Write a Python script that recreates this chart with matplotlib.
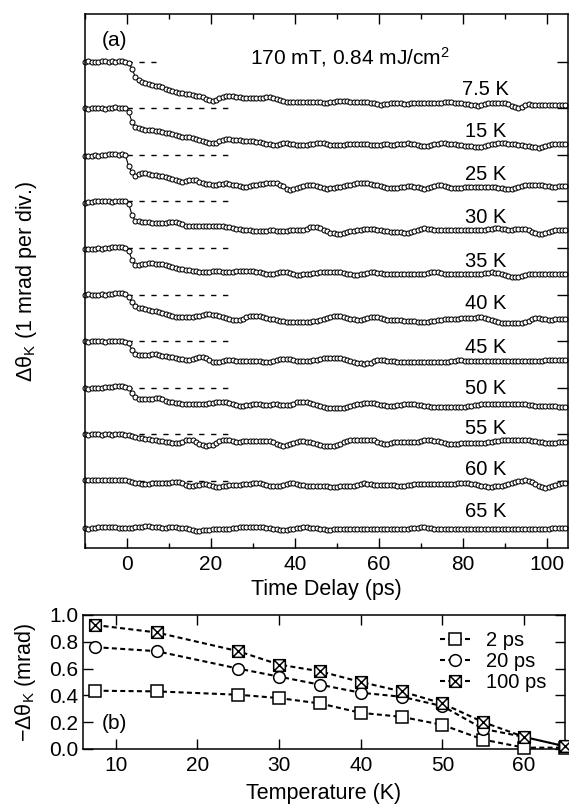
import numpy as np
import matplotlib
matplotlib.use("Agg")
import matplotlib.pyplot as plt
from matplotlib.path import Path
from matplotlib.ticker import MultipleLocator, FixedLocator, FormatStrFormatter

plt.rcParams['font.family'] = ['Liberation Sans', 'DejaVu Sans']
plt.rcParams['mathtext.default'] = 'regular'

# ---------------- data: panel (a) ----------------
# Kerr rotation traces in units of 0.01 mrad, sampled every 0.8 ps from -10 ps
t_start, t_step = -10.0, 0.8
temp_labels = ["7.5 K", "15 K", "25 K", "30 K", "35 K", "40 K", "45 K", "50 K", "55 K", "60 K", "65 K"]
offsets = [0, -1, -2, -3, -4, -5, -6, -7, -8, -9, -10]   # 1 mrad per div.
dash_end = [7, 25, 25, 25, 25, 25, 25, 25, 25, 25, None]

trace_7p5K = [0,1,0,-1,0,1,1,0,1,0,2,1,0,
    -4,-15,-34,-40,-44,-46,-48,-50,-52,-53,-55,-58,
    -61,-64,-66,-67,-68,-69,-70,-72,-74,-75,-77,-80,-83,-84,-82,-79,-76,-74,-73,-74,-76,-77,-78,-78,-79,
    -79,-79,-78,-78,-77,-77,-78,-80,-82,-84,-86,-86,-86,-86,-86,-87,-87,-87,-86,-86,-87,-88,-88,-87,-86,
    -85,-84,-84,-85,-86,-87,-87,-86,-86,-87,-88,-90,-92,-93,-92,-91,-90,-90,-90,-90,-91,-91,-90,-90,-89,
    -89,-89,-88,-88,-88,-89,-88,-87,-86,-87,-88,-89,-90,-91,-92,-93,-94,-95,-94,-92,-90,-89,-88,-88,-89,
    -90,-92,-95,-98,-99,-97,-94,-92,-93,-94,-94,-93,-93,-93,-94,-94,-93,-93,-93]
trace_15K = [0,-1,1,0,1,0,-1,0,1,2,1,1,0,
    -8,-30,-40,-43,-45,-46,-47,-48,-49,-50,-52,-53,
    -54,-56,-58,-60,-61,-62,-63,-64,-66,-68,-70,-72,-74,-75,-74,-71,-68,-67,-67,-68,-69,-69,-70,-70,-70,
    -71,-72,-73,-74,-76,-78,-79,-79,-77,-74,-74,-76,-78,-79,-80,-80,-79,-78,-77,-75,-74,-75,-77,-79,-80,
    -80,-80,-79,-78,-77,-76,-76,-76,-77,-78,-79,-79,-79,-79,-78,-78,-79,-79,-78,-77,-76,-75,-76,-78,-80,
    -81,-82,-82,-80,-78,-76,-75,-75,-76,-76,-77,-79,-80,-81,-81,-82,-83,-84,-84,-82,-79,-77,-76,-75,-75,
    -75,-76,-77,-78,-79,-80,-81,-82,-83,-84,-85,-84,-82,-80,-78,-77,-77,-77,-77]
trace_25K = [-2,-3,-2,-1,-2,-1,0,1,2,1,0,1,0,
    -25,-38,-45,-41,-39,-40,-41,-43,-44,-45,-46,-47,
    -49,-52,-55,-57,-58,-57,-55,-54,-55,-58,-60,-62,-63,-64,-64,-63,-62,-61,-62,-64,-66,-68,-69,-69,-68,
    -66,-64,-63,-62,-61,-60,-60,-61,-64,-68,-73,-75,-74,-72,-70,-68,-66,-65,-66,-68,-70,-72,-73,-72,-71,
    -70,-69,-68,-66,-64,-62,-61,-60,-60,-61,-62,-64,-66,-68,-70,-71,-72,-72,-71,-70,-69,-68,-68,-69,-70,
    -72,-73,-72,-70,-67,-65,-65,-67,-69,-71,-72,-72,-71,-70,-70,-70,-70,-70,-70,-70,-70,-70,-70,-71,-72,
    -73,-74,-73,-72,-70,-68,-66,-65,-64,-64,-65,-66,-67,-68,-69,-69,-68,-68,-68]
trace_30K = [-3,-2,-2,0,1,0,1,0,-1,0,0,1,0,
    -5,-30,-42,-43,-44,-45,-45,-46,-46,-47,-47,-46,
    -45,-44,-44,-46,-49,-52,-54,-54,-54,-54,-53,-52,-52,-52,-52,-52,-53,-55,-56,-58,-59,-60,-61,-62,-62,
    -63,-63,-63,-63,-63,-62,-62,-63,-63,-63,-63,-62,-62,-62,-62,-61,-59,-56,-55,-56,-58,-61,-64,-67,-69,
    -71,-70,-68,-66,-64,-63,-62,-61,-60,-59,-59,-60,-61,-62,-63,-64,-65,-65,-66,-66,-67,-67,-66,-64,-61,
    -59,-58,-59,-60,-61,-62,-62,-62,-62,-62,-62,-62,-62,-62,-62,-62,-61,-61,-61,-61,-60,-59,-58,-58,-59,
    -60,-61,-61,-60,-59,-59,-60,-62,-65,-68,-70,-70,-68,-65,-63,-62,-61,-61,-61]
trace_35K = [-3,-2,-3,-2,-1,-2,-1,0,1,1,2,1,0,
    -6,-26,-37,-36,-35,-34,-33,-33,-34,-34,-35,-37,
    -39,-41,-43,-45,-46,-47,-48,-49,-50,-51,-51,-51,-51,-50,-50,-50,-51,-51,-51,-51,-50,-50,-50,-50,-50,
    -50,-51,-52,-54,-56,-57,-56,-54,-52,-51,-51,-53,-56,-58,-58,-57,-56,-55,-54,-53,-52,-52,-51,-51,-51,
    -52,-52,-53,-55,-57,-58,-58,-57,-55,-53,-52,-52,-53,-54,-55,-56,-56,-56,-56,-56,-56,-56,-56,-56,-56,
    -56,-55,-54,-52,-51,-52,-54,-56,-57,-57,-57,-57,-57,-57,-57,-57,-57,-56,-55,-54,-53,-52,-53,-54,-56,
    -58,-60,-62,-63,-63,-61,-58,-56,-55,-55,-56,-57,-57,-57,-56,-56,-56,-56,-56]
trace_40K = [0,1,0,-1,0,1,0,1,2,3,4,3,1,
    -6,-17,-24,-28,-30,-32,-33,-35,-36,-37,-39,-41,
    -44,-47,-48,-48,-48,-48,-48,-48,-47,-46,-44,-42,-42,-43,-45,-47,-48,-50,-52,-54,-55,-54,-52,-49,-47,
    -46,-46,-47,-48,-50,-52,-53,-55,-56,-57,-58,-58,-58,-58,-58,-58,-58,-58,-57,-56,-54,-52,-50,-48,-47,
    -47,-47,-48,-50,-52,-53,-54,-54,-53,-51,-49,-48,-49,-51,-53,-54,-55,-55,-55,-55,-56,-56,-57,-57,-58,
    -58,-58,-58,-57,-56,-55,-54,-53,-52,-52,-52,-52,-51,-51,-51,-50,-50,-49,-49,-50,-52,-55,-57,-59,-61,
    -62,-62,-62,-62,-62,-61,-59,-56,-53,-51,-51,-52,-53,-54,-54,-53,-53,-52,-52]
trace_45K = [0,-1,0,1,0,0,-1,0,1,0,1,0,-1,
    -5,-19,-28,-30,-30,-30,-29,-28,-28,-29,-31,-33,
    -34,-35,-37,-38,-39,-40,-40,-39,-37,-34,-34,-37,-41,-44,-45,-44,-42,-40,-40,-41,-42,-43,-43,-43,-42,
    -42,-42,-43,-44,-45,-44,-42,-40,-39,-38,-38,-39,-40,-42,-43,-43,-43,-42,-41,-40,-38,-37,-37,-37,-37,
    -37,-37,-38,-40,-42,-44,-46,-48,-49,-48,-46,-43,-41,-40,-41,-42,-43,-43,-44,-44,-44,-44,-44,-44,-44,
    -44,-44,-44,-44,-44,-44,-44,-44,-44,-43,-42,-41,-41,-42,-43,-43,-43,-43,-43,-43,-43,-43,-43,-43,-43,
    -43,-43,-43,-43,-43,-43,-43,-42,-42,-42,-42,-42,-41,-41,-40,-40,-40,-40,-41]
trace_50K = [-1,-2,-1,0,-1,0,1,1,2,3,4,3,2,
    -1,-12,-21,-24,-25,-25,-25,-24,-23,-23,-25,-28,
    -30,-31,-32,-33,-34,-35,-35,-35,-35,-35,-35,-34,-33,-32,-31,-30,-30,-31,-33,-36,-38,-39,-39,-38,-37,
    -36,-36,-36,-37,-37,-37,-36,-36,-37,-38,-38,-37,-34,-31,-30,-30,-31,-33,-35,-37,-39,-41,-43,-44,-44,
    -44,-44,-43,-42,-40,-38,-36,-34,-33,-32,-32,-33,-35,-37,-38,-39,-39,-39,-38,-37,-36,-36,-36,-36,-37,
    -38,-39,-40,-41,-41,-41,-41,-41,-41,-41,-41,-41,-41,-41,-40,-39,-38,-37,-36,-36,-36,-36,-36,-36,-36,
    -36,-36,-35,-35,-35,-35,-36,-37,-38,-39,-40,-40,-40,-40,-40,-40,-41,-41,-41]
trace_55K = [0,-1,0,1,0,-1,0,0,-1,0,1,0,-1,
    -2,-4,-6,-8,-9,-10,-11,-12,-13,-14,-15,-16,
    -17,-18,-18,-19,-17,-13,-12,-13,-17,-20,-23,-25,-24,-22,-18,-15,-13,-12,-13,-15,-16,-16,-15,-14,-14,
    -14,-14,-14,-14,-14,-15,-17,-20,-24,-25,-24,-21,-18,-16,-15,-15,-16,-17,-19,-21,-23,-25,-26,-26,-25,
    -23,-20,-17,-15,-13,-12,-12,-12,-12,-12,-12,-13,-16,-19,-21,-20,-18,-17,-17,-17,-17,-17,-17,-16,-16,
    -14,-13,-13,-13,-14,-15,-17,-19,-20,-21,-21,-20,-19,-19,-19,-19,-19,-19,-19,-18,-17,-16,-15,-14,-13,
    -13,-13,-13,-13,-13,-13,-13,-13,-14,-15,-16,-17,-18,-18,-18,-18,-17,-16,-16]
trace_60K = [2,1,3,2,1,2,3,2,1,2,3,2,1,
    0,-2,-4,-5,-6,-6,-6,-5,-5,-4,-4,-4,
    -4,-3,-3,-3,-5,-9,-12,-11,-9,-8,-7,-7,-9,-12,-14,-14,-12,-10,-9,-9,-9,-9,-7,-6,-6,
    -5,-5,-5,-6,-8,-10,-11,-12,-11,-9,-6,-5,-5,-6,-8,-9,-10,-11,-12,-12,-12,-12,-12,-13,-13,
    -13,-12,-12,-12,-12,-11,-9,-6,-5,-6,-7,-8,-8,-8,-8,-8,-8,-9,-10,-11,-10,-9,-8,-7,-7,
    -7,-7,-7,-7,-7,-7,-7,-7,-7,-7,-6,-5,-4,-4,-5,-6,-7,-9,-11,-12,-13,-13,-12,-11,-10,
    -9,-7,-5,-3,-1,0,1,0,-3,-7,-11,-14,-15,-14,-11,-8,-6,-5,-5]
trace_65K = [-2,-3,-2,-1,0,1,2,2,1,0,-1,-1,-2,
    -2,-1,0,1,2,3,3,2,1,0,-1,-1,
    0,0,0,-1,-1,-2,-4,-6,-7,-7,-6,-5,-5,-4,-4,-4,-4,-4,-3,-2,-1,0,0,1,1,
    1,1,0,0,-1,-2,-3,-4,-5,-5,-5,-4,-3,-2,-1,0,0,-1,-1,-2,-3,-4,-5,-5,-4,
    -4,-3,-3,-3,-3,-3,-3,-3,-3,-3,-3,-3,-3,-3,-3,-3,-3,-3,-3,-3,-3,-3,-2,-1,-1,
    0,0,-1,-2,-3,-4,-4,-4,-4,-4,-4,-4,-4,-4,-4,-4,-4,-4,-4,-4,-4,-4,-4,-4,-4,
    -4,-4,-4,-4,-4,-4,-4,-4,-4,-4,-4,-4,-4,-3,-2,-1,-1,-2,-2]

traces = [trace_7p5K, trace_15K, trace_25K, trace_30K, trace_35K, trace_40K,
          trace_45K, trace_50K, trace_55K, trace_60K, trace_65K]

# ---------------- data: panel (b) ----------------
temperatures = [7.5, 15, 25, 30, 35, 40, 45, 50, 55, 60, 65]
kerr_2ps = [0.435, 0.43, 0.405, 0.38, 0.34, 0.27, 0.24, 0.18, 0.07, 0.01, 0.01]
kerr_20ps = [0.76, 0.73, 0.60, 0.54, 0.48, 0.42, 0.39, 0.32, 0.15, 0.09, 0.02]
kerr_100ps = [0.925, 0.87, 0.73, 0.63, 0.58, 0.50, 0.43, 0.34, 0.20, 0.09, 0.02]

# ---------------- layout ----------------
W, H = 569, 807
fig = plt.figure(figsize=(W / 100, H / 100), dpi=100)
ax1 = fig.add_axes([85 / W, 1 - 548 / H, (568 - 85) / W, (548 - 14) / H])
ax2 = fig.add_axes([83 / W, 1 - 749 / H, (565 - 83) / W, (749 - 615) / H])

for ax in (ax1, ax2):
    for sp in ax.spines.values():
        sp.set_linewidth(1.1)

FS_TICK = 15
FS_LABEL = 15.5
FS_TEXT = 14.5

# ---------------- panel (a) ----------------
label_y = [-0.72, -1.61, -2.54, -3.46, -4.40, -5.32, -6.25, -7.14, -8.00, -8.87, -9.78]
for vals, off, dend, lab, ly in zip(traces, offsets, dash_end, temp_labels, label_y):
    t = t_start + t_step * np.arange(len(vals))
    y = np.asarray(vals) / 100.0 + off
    if dend is not None:
        ax1.plot([0, dend], [off, off], color='k', lw=1.0, ls=(0, (3.8, 4.8)), zorder=1)
    ax1.plot(t, y, '-o', color='k', lw=0.8, ms=3.6, mfc='white', mec='k', mew=0.75,
             clip_on=False, zorder=2)
    ax1.text(85.4, ly, lab, ha='center', va='baseline', fontsize=FS_TEXT)

ax1.set_xlim(-10, 105)
ax1.set_ylim(-10.44, 1.02)
ax1.xaxis.set_major_locator(FixedLocator([0, 20, 40, 60, 80, 100]))
ax1.xaxis.set_minor_locator(MultipleLocator(10))
ax1.tick_params(axis='x', which='major', direction='in', top=True, bottom=True,
                length=7, width=1.0, labelsize=FS_TICK, pad=5)
ax1.tick_params(axis='x', which='minor', direction='in', top=True, bottom=True,
                length=3.5, width=1.0)
ax1.yaxis.set_major_locator(FixedLocator(offsets))
ax1.tick_params(axis='y', which='both', direction='in', left=False, right=True,
                labelleft=False, labelright=False, length=8, width=1.0)
ax1.set_xlabel('Time Delay (ps)', fontsize=FS_LABEL)
ax1.xaxis.set_label_coords(0.5, -0.058)
ax1.set_ylabel('Δθ$_K$ (1 mrad per div.)', fontsize=FS_LABEL)
ax1.yaxis.set_label_coords(-0.095, 0.5)
ax1.text(-2.9, 0.46, '(a)', ha='center', va='center', fontsize=FS_TICK)
ax1.text(53, -0.05, '170 mT, 0.84 mJ/cm$^2$', ha='center', va='baseline', fontsize=15)

# ---------------- panel (b) ----------------
verts = [(-1, -1), (1, -1), (1, 1), (-1, 1), (-1, -1),
         (-1, -1), (1, 1), (-1, 1), (1, -1)]
codes = [Path.MOVETO, Path.LINETO, Path.LINETO, Path.LINETO, Path.CLOSEPOLY,
         Path.MOVETO, Path.LINETO, Path.MOVETO, Path.LINETO]
boxx = Path(verts, codes)

dash_b = (0, (2.4, 1.6))
common = dict(color='k', lw=1.5, ls=dash_b, ms=8.4, mfc='white', mec='k', mew=1.1, clip_on=False)
ax2.plot(temperatures, kerr_2ps, marker='s', label='2 ps', zorder=3, **common)
ax2.plot(temperatures, kerr_20ps, marker='o', label='20 ps', zorder=3, **common)
ax2.plot(temperatures, kerr_100ps, marker=boxx, label='100 ps', zorder=3, **common)

ax2.set_xlim(6, 65)
ax2.set_ylim(0, 1.0)
ax2.xaxis.set_major_locator(FixedLocator([10, 20, 30, 40, 50, 60]))
ax2.yaxis.set_major_locator(FixedLocator([0, 0.2, 0.4, 0.6, 0.8, 1.0]))
ax2.yaxis.set_major_formatter(FormatStrFormatter('%.1f'))
ax2.tick_params(axis='both', which='major', direction='in', top=True, right=True,
                length=7.5, width=1.0, labelsize=FS_TICK)
ax2.tick_params(axis='x', pad=5)
ax2.tick_params(axis='y', pad=3.5)
ax2.set_xlabel('Temperature (K)', fontsize=FS_LABEL)
ax2.xaxis.set_label_coords(0.5, -0.255)
ax2.set_ylabel('−Δθ$_K$ (mrad)', fontsize=FS_LABEL)
ax2.yaxis.set_label_coords(-0.093, 0.5)
ax2.text(9.8, 0.19, '(b)', ha='center', va='center', fontsize=FS_TICK)
ax2.legend(loc='upper left', bbox_to_anchor=((440 - 83) / 482, (749 - 631) / 134),
           frameon=False, fontsize=FS_TEXT, handlelength=1.5, handletextpad=0.8,
           labelspacing=0.1, borderpad=0, borderaxespad=0)

fig.savefig('out.png', dpi=100)
